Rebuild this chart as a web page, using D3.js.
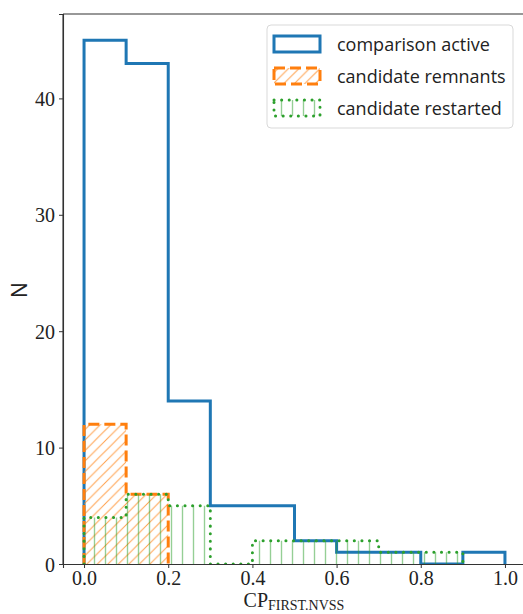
<!DOCTYPE html>
<html>
<head>
<meta charset="utf-8">
<script src="https://cdn.jsdelivr.net/npm/d3@7"></script>
<style>
  body { margin: 0; background: #fff; }
  svg { display: block; }
  .tick text { font-family: "Liberation Serif", "DejaVu Serif", serif; font-size: 20px; fill: #222; }
</style>
</head>
<body>
<svg id="chart" width="523" height="614"></svg>
<script>
// bin edges shared by every histogram
var binEdges = [0, 0.1, 0.2, 0.3, 0.4, 0.5, 0.6, 0.7, 0.8, 0.9, 1.0];

// counts per bin
var activeCounts    = [45, 43, 14, 5, 5, 2, 1, 1, 0, 1];
var remnantCounts   = [12, 6];
var restartedCounts = [4, 6, 5, 0, 2, 2, 2, 1, 1];

var xTicks = [0, 0.2, 0.4, 0.6, 0.8, 1.0];
var yTicks = [0, 10, 20, 30, 40];
var seriesNames = ["comparison active", "candidate remnants", "candidate restarted"];

var svg = d3.select("#chart"),
    margin = {left: 63, top: 14, right: 526, bottom: 564};

var x = d3.scaleLinear().domain([-0.05, 1.05]).range([margin.left, margin.right]);
var y = d3.scaleLinear().domain([0, 47.25]).range([margin.bottom, margin.top]);

// hatch patterns, in page space like matplotlib does
var defs = svg.append("defs");
defs.append("clipPath").attr("id", "plot-clip")
  .append("rect")
    .attr("x", margin.left).attr("y", margin.top)
    .attr("width", margin.right - margin.left)
    .attr("height", margin.bottom - margin.top);

var diag = defs.append("pattern")
    .attr("id", "hatch-diag")
    .attr("patternUnits", "userSpaceOnUse")
    .attr("width", 10.5).attr("height", 10.5);
diag.append("path")
    .attr("d", "M-1,11.5 L11.5,-1 M-2,2 L2,-2 M8.5,12.5 L12.5,8.5")
    .attr("stroke", "#ff7f0e").attr("stroke-width", 1).attr("opacity", 0.75);

var vert = defs.append("pattern")
    .attr("id", "hatch-vert")
    .attr("patternUnits", "userSpaceOnUse")
    .attr("x", 1)
    .attr("width", 11).attr("height", 11);
vert.append("path")
    .attr("d", "M5.5,0 L5.5,11")
    .attr("stroke", "#2ca02c").attr("stroke-width", 1.4).attr("opacity", 0.5);

// step outline from counts
function stepPoints(counts) {
  var pts = [[x(binEdges[0]), y(0)]];
  counts.forEach(function(c, i) {
    pts.push([x(binEdges[i]), y(c)]);
    pts.push([x(binEdges[i + 1]), y(c)]);
  });
  pts.push([x(binEdges[counts.length]), y(0)]);
  return pts;
}

var line = d3.line();
var plot = svg.append("g").attr("clip-path", "url(#plot-clip)");

function drawHist(counts, color, hatch, dash) {
  var pts = stepPoints(counts);
  if (hatch) {
    plot.append("path")
      .attr("d", line(pts) + "Z")
      .attr("fill", "url(#" + hatch + ")")
      .attr("stroke", "none");
  }
  plot.append("path")
    .attr("d", line(pts))
    .attr("fill", "none")
    .attr("stroke", color)
    .attr("stroke-width", 3)
    .attr("stroke-dasharray", dash || null)
    .attr("stroke-linecap", dash === "0.1 7.5" ? "round" : "butt")
    .attr("stroke-linejoin", "miter");
}

drawHist(activeCounts, "#1f77b4", null, null);
drawHist(remnantCounts, "#ff7f0e", "hatch-diag", "11 5");
drawHist(restartedCounts, "#2ca02c", "hatch-vert", "0.1 7.5");

// axes
var xAxis = svg.append("g")
    .attr("transform", "translate(0," + margin.bottom + ")")
    .call(d3.axisBottom(x).tickValues(xTicks).tickSize(4).tickPadding(2.5).tickFormat(d3.format(".1f")));
var yAxis = svg.append("g")
    .attr("transform", "translate(" + margin.left + ",0)")
    .call(d3.axisLeft(y).tickValues(yTicks).tickSize(4).tickPadding(4));

[xAxis, yAxis].forEach(function(a) {
  a.select(".domain").attr("stroke", "#333").attr("stroke-width", 1.1);
  a.selectAll(".tick line").attr("stroke", "#333");
});
yAxis.selectAll(".tick text").attr("dy", "0.35em");

// top spine
svg.append("line")
    .attr("x1", margin.left).attr("x2", margin.right)
    .attr("y1", margin.top).attr("y2", margin.top)
    .attr("stroke", "#333").attr("stroke-width", 1.1);
svg.append("line")
    .attr("x1", margin.left).attr("x2", margin.left)
    .attr("y1", margin.top).attr("y2", margin.bottom)
    .attr("stroke", "#333").attr("stroke-width", 1.1);

// axis labels
var xl = svg.append("text")
    .attr("x", 294).attr("y", 607)
    .attr("text-anchor", "middle")
    .style("font-family", "'Liberation Serif', 'DejaVu Serif', serif")
    .style("fill", "#222");
xl.append("tspan").style("font-size", "20px").text("CP");
xl.append("tspan").attr("dy", 3).style("font-size", "14px").text("FIRST.NVSS");

svg.append("text")
    .attr("transform", "translate(27,290) rotate(-90)")
    .attr("text-anchor", "middle")
    .style("font-family", "'Open Sans', 'DejaVu Sans', sans-serif")
    .style("font-size", "21px")
    .style("fill", "#222")
    .text("N");

// legend
var legend = svg.append("g");
legend.append("rect")
    .attr("x", 267).attr("y", 25).attr("width", 246).attr("height", 103)
    .attr("rx", 4)
    .attr("fill", "#fff").attr("fill-opacity", 0.85)
    .attr("stroke", "#d9d9d9");

var legendStyle = [
  {color: "#1f77b4", hatch: null, dash: null},
  {color: "#ff7f0e", hatch: "hatch-diag", dash: "11 5"},
  {color: "#2ca02c", hatch: "hatch-vert", dash: "0.1 7.5"}
];

seriesNames.forEach(function(name, i) {
  var cy = 44 + i * 32, s = legendStyle[i];
  if (s.hatch) {
    legend.append("rect")
      .attr("x", 274).attr("y", cy - 8).attr("width", 46).attr("height", 16)
      .attr("fill", "url(#" + s.hatch + ")");
  }
  legend.append("rect")
    .attr("x", 274).attr("y", cy - 8).attr("width", 46).attr("height", 16)
    .attr("fill", "none")
    .attr("stroke", s.color).attr("stroke-width", 3)
    .attr("stroke-dasharray", s.dash)
    .attr("stroke-linecap", s.dash === "0.1 7.5" ? "round" : "butt");
  legend.append("text")
    .attr("x", 337).attr("y", cy + 7)
    .style("font-family", "'Open Sans', 'DejaVu Sans', sans-serif")
    .style("font-size", "18px")
    .style("fill", "#222")
    .text(name);
});
</script>
</body>
</html>
